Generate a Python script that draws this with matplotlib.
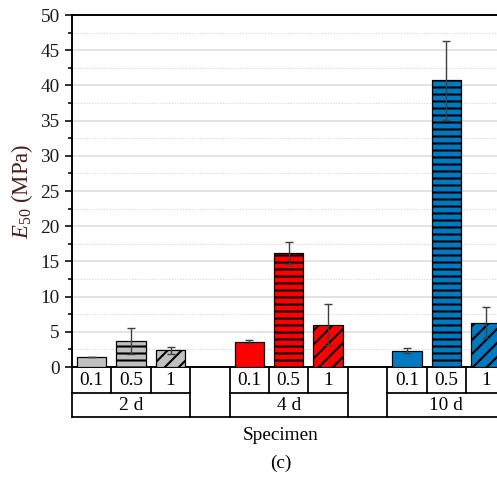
import matplotlib
matplotlib.use("Agg")
import matplotlib.pyplot as plt
from matplotlib.ticker import MultipleLocator

# values
days = ["2 d", "4 d", "10 d"]
ratios = ["0.1", "0.5", "1"]
e50_2d = [1.4, 3.7, 2.4]
e50_4d = [3.6, 16.2, 6.0]
e50_10d = [2.3, 40.7, 6.3]
err_2d = [0.05, 1.85, 0.5]
err_4d = [0.2, 1.6, 2.9]
err_10d = [0.35, 5.6, 2.2]

day_colors = ["#c0c0c0", "#ff0000", "#0079c1"]
hatches = [None, "---", "///"]

DPI = 126
plt.rcParams["font.family"] = ["Liberation Serif", "DejaVu Serif"]
plt.rcParams["mathtext.fontset"] = "custom"
plt.rcParams["mathtext.it"] = "Liberation Serif:italic"
plt.rcParams["mathtext.rm"] = "Liberation Serif"
plt.rcParams["hatch.linewidth"] = 1.2
plt.rcParams["hatch.color"] = "black"

fig = plt.figure(figsize=(497 / DPI, 477 / DPI), dpi=DPI)
ax = fig.add_axes([72 / 497, 110 / 477, 433.4 / 497, 352 / 477])

values = [e50_2d, e50_4d, e50_10d]
errors = [err_2d, err_4d, err_10d]

for g in range(len(days)):
    for j in range(len(ratios)):
        x = g * 4 + j
        ax.bar(x, values[g][j], width=0.75, color=day_colors[g],
               edgecolor="black", linewidth=0.7, hatch=hatches[j], zorder=3)
        ax.errorbar(x, values[g][j], yerr=errors[g][j], fmt="none",
                    ecolor="#404040", elinewidth=0.8, capsize=2.2,
                    capthick=0.8, zorder=4)

ax.set_xlim(-0.5, 10.5)
ax.set_ylim(0, 50)
ax.yaxis.set_major_locator(MultipleLocator(5))
ax.yaxis.set_minor_locator(MultipleLocator(2.5))
ax.set_xticks([])
ax.tick_params(axis="y", which="major", direction="out", length=4,
               width=0.9, labelsize=11, pad=3, labelcolor="#1a1a1a")
ax.tick_params(axis="y", which="minor", direction="out", length=2.3, width=0.9)
ax.grid(axis="y", which="major", color="#dcdcdc", linewidth=0.9, zorder=0)
ax.grid(axis="y", which="minor", color="#d8d8d8", linewidth=0.6,
        linestyle=(0, (1.2, 1.5)), zorder=0)
ax.set_axisbelow(True)

for s in ["left", "top", "bottom"]:
    ax.spines[s].set_linewidth(1.1)
ax.spines["right"].set_visible(False)

ax.set_ylabel(r"$E_{50}$ (MPa)", fontsize=13, color="#4a1c1c", labelpad=3)

# category table under the axis
trans = ax.get_xaxis_transform()
r1 = -26.3 / 352
r2 = -49.7 / 352
lw = 1.0
kw = dict(transform=trans, color="black", linewidth=lw, clip_on=False)

for g in range(len(days)):
    left = g * 4 - 0.5
    right = g * 4 + len(ratios) - 0.5
    ax.plot([left, right], [r1, r1], **kw)
    for j in range(1, len(ratios)):
        ax.plot([left + j, left + j], [0, r1], **kw)
    ax.plot([left, left], [0, r2], **kw)
    ax.plot([right, right], [0, r2], **kw)
    for j, r in enumerate(ratios):
        ax.text(g * 4 + j, r1 / 2, r, transform=trans, ha="center",
                va="center", fontsize=11)
    ax.text(g * 4 + 1, (r1 + r2) / 2, days[g], transform=trans,
            ha="center", va="center", fontsize=11)
ax.plot([-0.5, 10.5], [r2, r2], **kw)

fig.text(281 / 497, 1 - 435 / 477, "Specimen", ha="center", va="center",
         fontsize=11)
fig.text(281 / 497, 1 - 463 / 477, "(c)", ha="center", va="center",
         fontsize=11)

fig.savefig("out.png", dpi=DPI)
